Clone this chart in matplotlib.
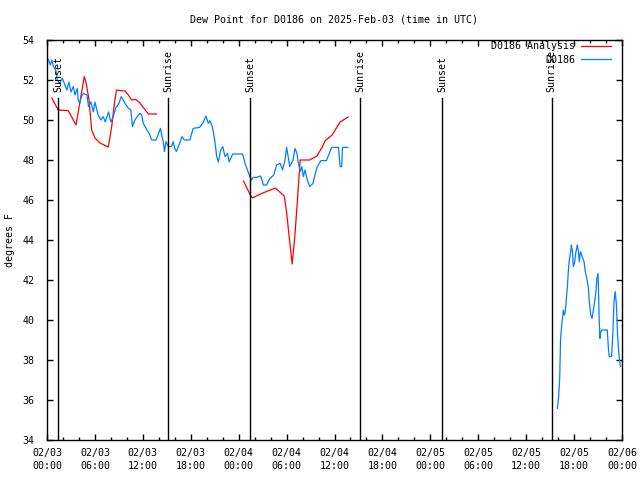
import numpy as np
import pandas as pd
import matplotlib
matplotlib.use("Agg")
import matplotlib.pyplot as plt
import matplotlib.dates as mdates

plt.rcParams["font.family"] = "DejaVu Sans Mono"
plt.rcParams["font.size"] = 7.2

start = pd.Timestamp("2025-02-03 00:00")

# hours after 02/03 00:00 UTC, dew point in F
ana1_h = [0.6, 1.4, 2.67, 3.63, 4.67, 4.9, 5.26, 5.6, 6.0, 6.63, 7.68, 8.1, 8.5, 8.7,
          9.14, 9.77, 10.2, 10.6, 11.1, 11.6, 12.3, 12.7, 13.7]
ana1_v = [51.1, 50.5, 50.47, 49.75, 52.17, 51.85, 51.0, 49.5, 49.1, 48.85, 48.65, 49.67, 51.0, 51.5,
          51.47, 51.45, 51.25, 51.0, 51.03, 50.87, 50.5, 50.3, 50.3]

ana2_h = [24.6, 25.4, 25.7, 26.9, 28.6, 29.7, 30.0, 30.3, 30.7, 31.05, 31.4, 31.7, 32.9,
          33.8, 34.5, 34.8, 35.7, 36.7, 37.7]
ana2_v = [46.95, 46.3, 46.1, 46.33, 46.6, 46.2, 45.4, 44.25, 42.8, 44.25, 46.25, 48.0, 48.0,
          48.2, 48.67, 48.95, 49.25, 49.9, 50.15]

obs1_h = [0.0, 0.16, 0.4, 0.6, 0.8, 1.1, 1.3, 1.6, 1.9, 2.2, 2.5, 2.75, 3.0, 3.3, 3.5, 3.8,
          3.9, 4.1, 4.3, 4.55, 5.0, 5.2, 5.5, 5.8, 6.0, 6.4, 6.75, 7.05, 7.3, 7.7, 8.0, 8.3,
          8.6, 9.0, 9.3, 9.55, 9.77, 10.2, 10.5, 10.7, 11.0, 11.3, 11.65, 11.85, 12.06, 12.5,
          12.8, 13.1, 13.65, 13.9, 14.2, 14.4, 14.6, 14.7, 14.9, 15.2, 15.6, 15.8, 16.0, 16.2,
          16.6, 16.9, 17.2, 17.9, 18.3, 19.1, 19.6, 19.9, 20.2, 20.4, 20.7, 21.0, 21.25, 21.45,
          21.75, 22.0, 22.3, 22.6, 22.8, 23.25, 24.5, 24.8, 25.1, 25.4, 25.6, 25.8, 26.2, 26.75,
          27.1, 27.5, 27.9, 28.4, 28.75, 29.2, 29.5, 29.8, 30.0, 30.2, 30.4, 30.8, 31.05, 31.3,
          31.45, 31.7, 31.9, 32.1, 32.3, 32.6, 32.9, 33.3, 33.6, 33.85, 34.3, 35.0, 35.35,
          35.65, 36.5, 36.7, 36.9, 37.0, 37.65]
obs1_v = [53.1, 53.03, 52.75, 53.0, 52.67, 52.5, 52.0, 51.8, 52.1, 51.8, 51.5, 51.9, 51.4, 51.67, 51.25, 51.58,
          51.0, 50.83, 51.17, 51.33, 51.25, 50.67, 50.9, 50.4, 50.9, 50.25, 50.0, 50.17, 49.9, 50.4, 49.9, 50.17,
          50.6, 50.83, 51.17, 51.0, 50.83, 50.58, 50.5, 49.67, 50.0, 50.17, 50.33, 50.25, 49.83, 49.5,
          49.33, 49.0, 49.0, 49.25, 49.58, 49.17, 48.83, 48.42, 48.92, 48.67, 48.67, 48.92, 48.58, 48.42,
          48.83, 49.17, 49.0, 49.0, 49.58, 49.63, 49.9, 50.2, 49.83, 49.97, 49.67, 49.0, 48.17, 47.9,
          48.5, 48.67, 48.17, 48.33, 47.9, 48.3, 48.3, 47.83, 47.5, 47.17, 47.0, 47.13, 47.13, 47.2,
          46.75, 46.75, 47.08, 47.25, 47.75, 47.83, 47.5, 48.0, 48.63, 48.17, 47.67, 48.0, 48.58, 48.33,
          47.9, 47.42, 47.67, 47.17, 47.5, 47.0, 46.67, 46.83, 47.33, 47.67, 47.97, 47.97, 48.33,
          48.63, 48.63, 47.67, 47.67, 48.63, 48.63]

obs2_h = [63.9, 64.05, 64.2, 64.25, 64.3, 64.45, 64.6, 64.65, 64.8, 64.9, 65.0, 65.15, 65.3,
          65.4, 65.6, 65.65, 65.8, 65.9, 66.05, 66.2, 66.4, 66.55, 66.65, 66.8, 67.0, 67.25,
          67.4, 67.6, 67.8, 67.9, 68.1, 68.25, 68.45, 68.6, 68.75, 68.85, 69.0, 69.05, 69.15,
          69.25, 69.3, 69.45, 70.15, 70.3, 70.4, 70.7, 70.85, 71.0, 71.15, 71.3, 71.45, 71.6,
          71.7, 71.8]
obs2_v = [35.58, 36.08, 37.08, 38.0, 39.0, 39.75, 40.25, 40.5, 40.25, 40.42, 40.92, 41.58, 42.58,
          43.0, 43.5, 43.75, 43.42, 42.67, 42.83, 43.33, 43.75, 43.42, 42.92, 43.42, 43.17, 42.92,
          42.42, 42.08, 41.58, 40.92, 40.25, 40.08, 40.58, 41.0, 41.5, 42.08, 42.33, 41.58, 39.92,
          39.08, 39.33, 39.5, 39.5, 38.58, 38.17, 38.17, 39.25, 40.92, 41.42, 40.75, 39.25, 38.33,
          38.0, 37.67]

sun_h = [1.41, 15.19, 25.46, 39.2, 49.45, 63.2]
sun_lbl = ["Sunset", "Sunrise", "Sunset", "Sunrise", "Sunset", "Sunrise"]


def to_time(hours):
    return start + pd.to_timedelta(np.array(hours), unit="h")


fig = plt.figure(figsize=(6.4, 4.8), dpi=100)
ax = fig.add_axes([47 / 640, 1 - 440 / 480, 575 / 640, 400 / 480])

red = "#ff0000"
blue = "#0080ff"
ax.plot(to_time(ana1_h), ana1_v, color=red, lw=0.9, label="D0186 Analysis")
ax.plot(to_time(ana2_h), ana2_v, color=red, lw=0.9)
ax.plot(to_time(obs1_h), obs1_v, color=blue, lw=0.9, label="D0186")
ax.plot(to_time(obs2_h), obs2_v, color=blue, lw=0.9)

for h, lbl in zip(sun_h, sun_lbl):
    t = to_time([h])[0]
    ax.plot([t, t], [0, 0.855], color="black", lw=1.0,
            transform=ax.get_xaxis_transform())
    ax.text(t, 0.87, lbl, rotation=90, ha="center", va="bottom",
            transform=ax.get_xaxis_transform())

ax.set_xlim(start, start + pd.Timedelta(hours=72))
ax.set_ylim(34, 54)
ax.set_yticks(np.arange(34, 55, 2))
ax.xaxis.set_major_locator(mdates.HourLocator(byhour=[0, 6, 12, 18]))
ax.xaxis.set_minor_locator(mdates.HourLocator(byhour=range(0, 24, 2)))
ax.xaxis.set_major_formatter(mdates.DateFormatter("%m/%d\n%H:%M"))
for lab in ax.get_xticklabels():
    lab.set_linespacing(1.3)

ax.tick_params(which="both", direction="in", top=True, right=True, width=1.0)
ax.tick_params(which="major", length=4)
ax.tick_params(which="minor", length=2.5)
ax.tick_params(axis="x", pad=6)
ax.tick_params(axis="y", pad=9)
for s in ax.spines.values():
    s.set_linewidth(1.0)

ax.legend(loc="upper right", bbox_to_anchor=(0.981, 0.997), frameon=False,
          markerfirst=False, handlelength=3.0, handletextpad=0.6,
          borderpad=0, borderaxespad=0, labelspacing=0.35)

fig.text(334.5 / 640, 1 - 20 / 480, "Dew Point for D0186 on 2025-Feb-03 (time in UTC)",
         ha="center", va="center")
fig.text(10 / 640, 0.5, "degrees F", rotation=90, ha="center", va="center")

fig.savefig("out.png", dpi=100)
